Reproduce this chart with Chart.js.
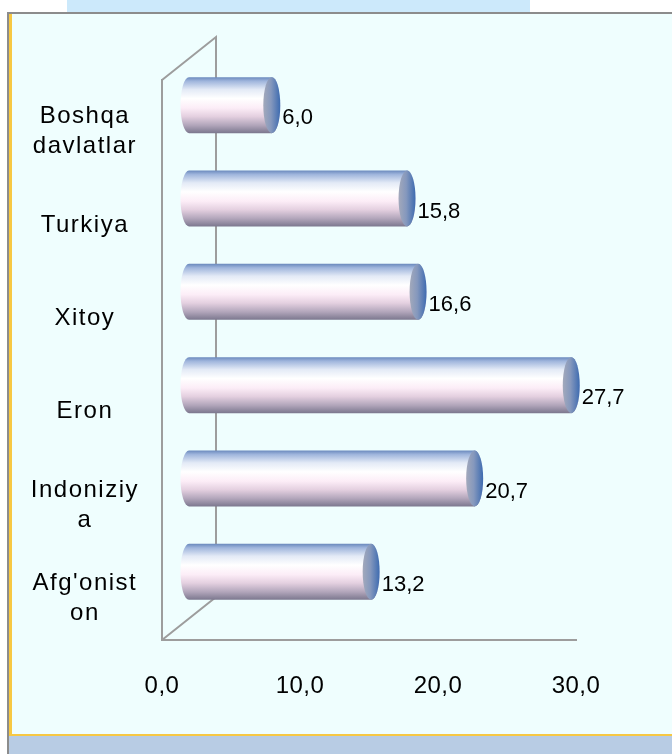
<!DOCTYPE html>
<html>
<head>
<meta charset="utf-8">
<script src="https://cdn.jsdelivr.net/npm/chart.js@4/dist/chart.umd.min.js"></script>
<style>
  html, body { margin: 0; padding: 0; background: #ffffff; width: 672px; height: 754px; overflow: hidden; }
  #topband { position: absolute; left: 67px; top: 0; width: 463px; height: 13px; background: #cce9fb; }
  #frame { position: absolute; left: 7px; top: 12px; width: 665px; height: 742px; background: #8c8c8c; }
  #inner { position: absolute; left: 9px; top: 14px; width: 663px; height: 722px; background: #f7c843; }
  #panel { position: absolute; left: 12px; top: 14px; width: 660px; height: 720px; background: #effefe; }
  #bottomband { position: absolute; left: 9px; top: 736px; width: 663px; height: 18px; background: #b8cce4; }
  canvas { position: absolute; left: 0; top: 0; }
</style>
</head>
<body>
<div id="topband"></div>
<div id="frame"></div>
<div id="inner"></div>
<div id="panel"></div>
<div id="bottomband"></div>
<canvas id="c" width="672" height="754"></canvas>
<script>
// ---- data ----
const categories = [
  ['Boshqa', 'davlatlar'],
  'Turkiya',
  'Xitoy',
  'Eron',
  ['Indoniziy', 'a'],
  ["Afg'onist", 'on']
];
const values = [6.0, 15.8, 16.6, 27.7, 20.7, 13.2];
const xTicks = [0, 10, 20, 30];

const fmt = v => v.toFixed(1).replace('.', ',');

// 3D depth vector (back wall offset) and bar offset (half depth)
const DEPTH = { dx: 54, dy: -43 };
const BAR_OFF = { dx: 27, dy: -21.5 };
const AXIS_COLOR = '#9d9d9d';
const FONT = '"Liberation Sans", Arial, sans-serif';
const SPACING = { x: '0.5px', y: '1.5px' };

const spacingPlugin = {
  id: 'spacing',
  beforeLayout(chart) { chart.ctx.letterSpacing = SPACING.y; },
  afterLayout(chart) {
    ['x', 'y'].forEach(id => {
      const s = chart.scales[id];
      if (s._wrapped) return;
      const orig = s.drawLabels;
      s.drawLabels = function (area) {
        const ctx = this.ctx;
        const prev = ctx.letterSpacing;
        ctx.letterSpacing = SPACING[id];
        orig.call(this, area);
        ctx.letterSpacing = prev;
      };
      s._wrapped = true;
    });
  }
};

const wallPlugin = {
  id: 'walls',
  beforeDatasetsDraw(chart) {
    const { ctx, chartArea: a } = chart;
    ctx.save();
    ctx.strokeStyle = AXIS_COLOR;
    ctx.lineWidth = 2;
    ctx.beginPath();
    ctx.moveTo(a.left, a.top);
    ctx.lineTo(a.left + DEPTH.dx, a.top + DEPTH.dy);
    ctx.lineTo(a.left + DEPTH.dx, a.bottom + DEPTH.dy);
    ctx.lineTo(a.left, a.bottom);
    ctx.stroke();
    ctx.restore();
  }
};

const cylinderPlugin = {
  id: 'cylinders',
  afterDatasetsDraw(chart) {
    const { ctx } = chart;
    const meta = chart.getDatasetMeta(0);
    meta.data.forEach((el, i) => {
      const p = el.getProps(['x', 'y', 'base', 'height'], true);
      const x0 = p.base + BAR_OFF.dx;
      const x1 = p.x + BAR_OFF.dx;
      const cy = p.y + BAR_OFF.dy;
      const ry = p.height / 2;
      const rx = 8.5;
      ctx.save();
      // body
      const g = ctx.createLinearGradient(0, cy - ry, 0, cy + ry);
      g.addColorStop(0, '#6a89bd');
      g.addColorStop(0.07, '#9fb5dc');
      g.addColorStop(0.22, '#e3eaf6');
      g.addColorStop(0.38, '#ffffff');
      g.addColorStop(0.55, '#fcedf7');
      g.addColorStop(0.7, '#e4d0e0');
      g.addColorStop(0.86, '#b1a5ba');
      g.addColorStop(1, '#7b778e');
      ctx.beginPath();
      ctx.ellipse(x0, cy, rx, ry, 0, -Math.PI / 2, Math.PI / 2, true);
      ctx.lineTo(x1, cy + ry);
      ctx.ellipse(x1, cy, rx, ry, 0, Math.PI / 2, -Math.PI / 2, true);
      ctx.closePath();
      ctx.fillStyle = g;
      ctx.fill();
      // end cap
      const gc = ctx.createLinearGradient(x1 - rx, 0, x1 + rx, 0);
      gc.addColorStop(0, '#a3a9bb');
      gc.addColorStop(0.45, '#8598bd');
      gc.addColorStop(1, '#3d6bb0');
      ctx.beginPath();
      ctx.ellipse(x1, cy, rx, ry, 0, 0, Math.PI * 2);
      ctx.fillStyle = gc;
      ctx.fill();
      // value label
      ctx.letterSpacing = '0px';
      ctx.fillStyle = '#000000';
      ctx.font = '22px ' + FONT;
      ctx.textAlign = 'left';
      ctx.textBaseline = 'middle';
      ctx.fillText(fmt(values[i]), x1 + rx + 2, cy + 13);
      ctx.restore();
    });
  }
};

new Chart(document.getElementById('c'), {
  type: 'bar',
  data: {
    labels: categories,
    datasets: [{
      data: values,
      backgroundColor: 'rgba(0,0,0,0)',
      borderWidth: 0,
      barPercentage: 0.6,
      categoryPercentage: 1.0
    }]
  },
  options: {
    indexAxis: 'y',
    responsive: false,
    animation: false,
    events: [],
    layout: { padding: { left: 12, top: 80, right: 96, bottom: 0 } },
    plugins: { legend: { display: false }, tooltip: { enabled: false }, title: { display: false } },
    scales: {
      x: {
        min: 0, max: 30,
        afterBuildTicks(scale) { scale.ticks = xTicks.map(v => ({ value: v })); },
        afterFit(scale) { scale.height = 114; },
        grid: { display: false, drawTicks: false },
        border: { display: true, color: AXIS_COLOR, width: 2 },
        ticks: {
          padding: 32,
          color: '#000000',
          font: { family: FONT, size: 24 },
          callback: v => fmt(v),
          maxRotation: 0
        }
      },
      y: {
        afterFit(scale) { scale.width = 150; },
        grid: { display: false, drawTicks: false },
        border: { display: true, color: AXIS_COLOR, width: 2 },
        ticks: {
          crossAlign: 'center',
          padding: 23,
          labelOffset: 5,
          color: '#000000',
          font: { family: FONT, size: 24, lineHeight: 1.25 }
        }
      }
    }
  },
  plugins: [spacingPlugin, wallPlugin, cylinderPlugin]
});
</script>
</body>
</html>
